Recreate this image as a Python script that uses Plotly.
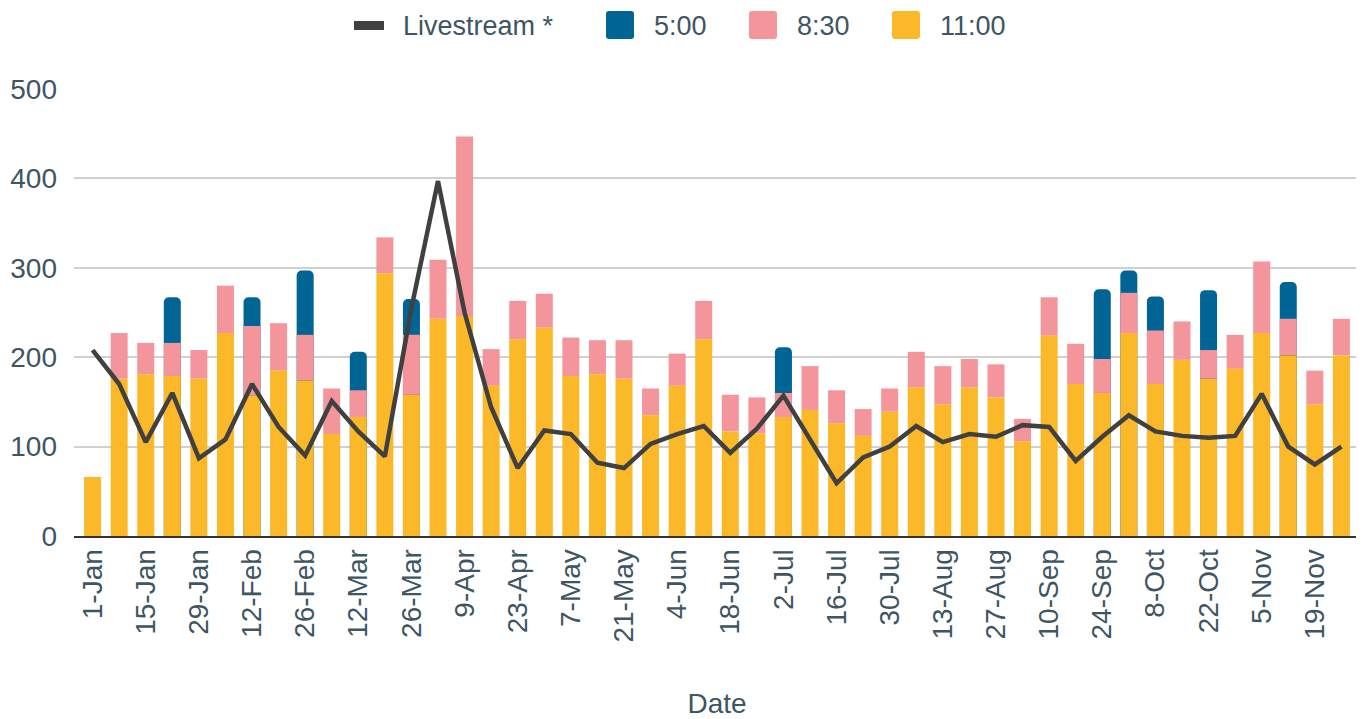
import plotly.graph_objects as go

dates = ["1-Jan", "8-Jan", "15-Jan", "22-Jan", "29-Jan", "5-Feb", "12-Feb", "19-Feb",
         "26-Feb", "5-Mar", "12-Mar", "19-Mar", "26-Mar", "2-Apr", "9-Apr", "16-Apr",
         "23-Apr", "30-Apr", "7-May", "14-May", "21-May", "28-May", "4-Jun", "11-Jun",
         "18-Jun", "25-Jun", "2-Jul", "9-Jul", "16-Jul", "23-Jul", "30-Jul", "6-Aug",
         "13-Aug", "20-Aug", "27-Aug", "3-Sep", "10-Sep", "17-Sep", "24-Sep", "1-Oct",
         "8-Oct", "15-Oct", "22-Oct", "29-Oct", "5-Nov", "12-Nov", "19-Nov", "26-Nov"]

s1100 = [66, 176, 181, 179, 176, 227, 157, 185, 174, 114, 133, 294, 158, 243, 246, 168,
         220, 233, 179, 181, 176, 135, 168, 220, 117, 115, 133, 141, 126, 112, 139, 166,
         147, 166, 155, 106, 224, 170, 160, 227, 170, 197, 176, 187, 227, 202, 147, 202]

s830 = [0, 51, 35, 37, 32, 53, 78, 53, 51, 51, 30, 40, 67, 66, 201, 41,
        43, 38, 43, 38, 43, 30, 36, 43, 41, 40, 27, 49, 37, 30, 26, 40,
        43, 32, 37, 25, 43, 45, 38, 45, 60, 43, 32, 38, 80, 41, 38, 41]

s500 = [0, 0, 0, 51, 0, 0, 32, 0, 72, 0, 43, 0, 40, 0, 0, 0,
        0, 0, 0, 0, 0, 0, 0, 0, 0, 0, 51, 0, 0, 0, 0, 0,
        0, 0, 0, 0, 0, 0, 78, 25, 38, 0, 67, 0, 0, 41, 0, 0]

livestream = [208, 170, 105, 160, 87, 108, 170, 122, 90, 151, 117, 89, 255, 397, 250, 144,
              76, 118, 114, 82, 76, 103, 114, 123, 93, 120, 157, 107, 59, 88, 100, 123,
              105, 114, 111, 124, 122, 84, 111, 135, 117, 112, 110, 112, 159, 100, 80, 100]

tick_labels = dates[::2]
y_ticks = [0, 100, 200, 300, 400, 500]

series_names = ["Livestream *", "5:00", "8:30", "11:00"]
series_colors = ["#404040", "#006494", "#f4959b", "#fbb829"]

FONT = "Liberation Sans, Arial, sans-serif"
TXT = "#3e5563"
OFF = 8  # page body margin of the html page
W, H = 1364 - OFF, 719 - OFF
ML, MR, MT, MB = 74 - OFF, 4, 89 - OFF, 183

# stacked tops (the blue segment is drawn from 0 to the full stack height and
# covered below by the pink and yellow segments so only its top gets rounded)
base830 = s1100
top830 = [a + b for a, b in zip(s1100, s830)]
top500 = [t + c if c > 0 else 0 for t, c in zip(top830, s500)]

fig = go.Figure()
fig.add_trace(go.Bar(x=dates, y=top500, name="5:00", showlegend=False,
                     customdata=s500, hovertemplate="%{x}: %{customdata}<extra>5:00</extra>",
                     marker=dict(color=series_colors[1], line=dict(width=0), cornerradius=5)))
fig.add_trace(go.Bar(x=dates, y=s830, base=base830, name="8:30", showlegend=False,
                     marker=dict(color=series_colors[2], line=dict(width=0))))
fig.add_trace(go.Bar(x=dates, y=s1100, name="11:00", showlegend=False,
                     marker=dict(color=series_colors[3], line=dict(width=0))))
fig.add_trace(go.Scatter(x=dates, y=livestream, name="Livestream *", mode="lines",
                         showlegend=False, line=dict(color=series_colors[0], width=4.5)))

# custom legend (screen pixel positions -> paper coordinates)
PW, PH = W - ML - MR, H - MT - MB
def px(x):
    return (x - OFF - ML) / PW
def py(y):
    return (H - MB - (y - OFF)) / PH

shapes = []
annotations = []
sym_x = [354, 606, 749, 892]
txt_x = [403, 654, 797, 940]
for i, (name, col) in enumerate(zip(series_names, series_colors)):
    if i == 0:
        shapes.append(dict(type="rect", xref="paper", yref="paper",
                           x0=px(sym_x[i]), x1=px(sym_x[i] + 30), y0=py(30), y1=py(21),
                           fillcolor=col, line=dict(width=0)))
    else:
        x0, x1, y0, y1, r = sym_x[i], sym_x[i] + 28, 11, 39, 3
        path = (f"M{px(x0 + r)},{py(y0)} L{px(x1 - r)},{py(y0)} Q{px(x1)},{py(y0)} {px(x1)},{py(y0 + r)} "
                f"L{px(x1)},{py(y1 - r)} Q{px(x1)},{py(y1)} {px(x1 - r)},{py(y1)} "
                f"L{px(x0 + r)},{py(y1)} Q{px(x0)},{py(y1)} {px(x0)},{py(y1 - r)} "
                f"L{px(x0)},{py(y0 + r)} Q{px(x0)},{py(y0)} {px(x0 + r)},{py(y0)} Z")
        shapes.append(dict(type="path", xref="paper", yref="paper", path=path,
                           fillcolor=col, line=dict(width=0)))
    annotations.append(dict(text=name, xref="paper", yref="paper", x=px(txt_x[i] - 2), y=py(26),
                            xanchor="left", yanchor="middle", showarrow=False,
                            font=dict(family=FONT, size=27, color=TXT)))

fig.update_layout(
    width=W, height=H,
    barmode="overlay", bargap=0.36,
    plot_bgcolor="white", paper_bgcolor="white",
    margin=dict(l=ML, r=MR, t=MT, b=MB, autoexpand=False),
    font=dict(family=FONT, size=28, color=TXT),
    showlegend=False,
    shapes=shapes,
    annotations=annotations,
)
fig.update_xaxes(
    type="category", range=[-0.7, 47.7], tickmode="array", tickvals=tick_labels,
    ticktext=tick_labels, tickangle=-90, showgrid=False, showline=True,
    linecolor="#333333", linewidth=2, ticks="", tickfont=dict(size=28, color=TXT),
    title=dict(text="Date", font=dict(size=28, color=TXT), standoff=52),
    automargin=False,
)
fig.update_yaxes(
    range=[0, 500], tickmode="array", tickvals=y_ticks, showgrid=True,
    gridcolor="#d0d0d0", gridwidth=2, zeroline=False, showline=False,
    tickfont=dict(size=28, color=TXT), ticklabelstandoff=16, automargin=False,
)

fig.write_html("out.html")
